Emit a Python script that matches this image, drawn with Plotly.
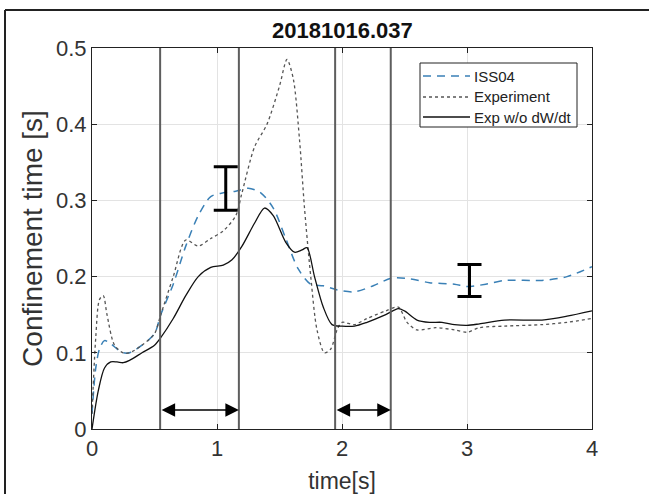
import plotly.graph_objects as go

# ---- data ----
t_iss = [0.0, 0.03, 0.06, 0.1, 0.15, 0.2, 0.25, 0.3, 0.4, 0.5, 0.55, 0.65, 0.75, 0.85, 0.95, 1.05,
         1.15, 1.25, 1.35, 1.45, 1.55, 1.65, 1.75, 1.85, 1.95, 2.1, 2.25, 2.4, 2.55, 2.7, 2.9,
         3.0, 3.15, 3.3, 3.6, 3.8, 4.0]
iss04 = [0.02, 0.08, 0.105, 0.116, 0.112, 0.105, 0.1, 0.1, 0.11, 0.125, 0.15, 0.19, 0.24, 0.28,
         0.305, 0.31, 0.312, 0.316, 0.31, 0.29, 0.25, 0.21, 0.19, 0.188, 0.183, 0.18, 0.188,
         0.198, 0.197, 0.192, 0.19, 0.187, 0.19, 0.195, 0.195, 0.2, 0.213]

t_exp = [0.0, 0.03, 0.06, 0.09, 0.12, 0.18, 0.25, 0.3, 0.4, 0.5, 0.55, 0.65, 0.75, 0.85, 0.95,
         1.05, 1.15, 1.2, 1.3, 1.4, 1.5, 1.56, 1.61, 1.66, 1.7, 1.75, 1.8, 1.86, 1.91, 1.96, 2.0,
         2.1, 2.2, 2.35, 2.45, 2.52, 2.6, 2.75, 2.9, 3.0, 3.1, 3.3, 3.6, 3.8, 4.0]
experiment = [0.02, 0.12, 0.17, 0.175, 0.15, 0.11, 0.1, 0.1, 0.11, 0.125, 0.15, 0.2, 0.248,
              0.24, 0.25, 0.26, 0.28, 0.31, 0.37, 0.4, 0.45, 0.485, 0.46, 0.38, 0.29, 0.2,
              0.13, 0.1, 0.105, 0.13, 0.14, 0.137, 0.145, 0.155, 0.16, 0.14, 0.13, 0.133,
              0.13, 0.127, 0.133, 0.135, 0.137, 0.14, 0.145]

t_wo = [0.0, 0.05, 0.1, 0.15, 0.2, 0.25, 0.3, 0.4, 0.5, 0.55, 0.65, 0.75, 0.85, 0.95, 1.05,
        1.12, 1.2, 1.3, 1.38, 1.45, 1.55, 1.62, 1.68, 1.72, 1.78, 1.85, 1.92, 2.0, 2.1, 2.2,
        2.35, 2.45, 2.5, 2.6, 2.7, 2.8, 2.9, 3.0, 3.1, 3.3, 3.6, 3.8, 4.0]
exp_wo_dwdt = [0.0, 0.05, 0.08, 0.088, 0.088, 0.087, 0.09, 0.1, 0.11, 0.12, 0.145, 0.175, 0.2,
               0.212, 0.215, 0.222, 0.24, 0.27, 0.29, 0.28, 0.245, 0.232, 0.235, 0.238, 0.2,
               0.16, 0.137, 0.135, 0.135, 0.14, 0.15, 0.158, 0.155, 0.143, 0.14, 0.14, 0.137,
               0.136, 0.138, 0.143, 0.143, 0.148, 0.155]

vlines_t = [0.545, 1.175, 1.945, 2.39]
arrow_spans = [(0.545, 1.175), (1.945, 2.39)]
arrow_y = 0.025
err_t = [1.07, 3.02]
err_center = [0.3155, 0.195]
err_half = [0.0285, 0.021]

x_ticks = [0, 1, 2, 3, 4]
y_ticks = [0, 0.1, 0.2, 0.3, 0.4, 0.5]
y_tick_text = ["0", "0.1", "0.2", "0.3", "0.4", "0.5"]

series_names = ["ISS04", "Experiment", "Exp w/o dW/dt"]

FONT = "Liberation Sans, Arial, sans-serif"

# plot-area geometry in pixels (for paper-coordinate decorations)
W, H = 649, 494
ML, MR, MT, MB = 92, 57, 48, 65
PW, PH = W - ML - MR, H - MT - MB


def px(xp):
    return (xp - ML) / PW


def py(yp):
    return (H - MB - yp) / PH


styles = [
    dict(color="#3a80b6", width=1.5, dash="8px,6px"),
    dict(color="#555555", width=1.3, dash="dot"),
    dict(color="#111111", width=1.3),
]

fig = go.Figure()

for xv in vlines_t:
    fig.add_shape(type="line", x0=xv, x1=xv, y0=0, y1=0.5, xref="x", yref="y",
                  line=dict(color="#5e5e5e", width=2), layer="above")

for (tx, ty), name, st in zip([(t_iss, iss04), (t_exp, experiment), (t_wo, exp_wo_dwdt)],
                              series_names, styles):
    fig.add_trace(go.Scatter(x=tx, y=ty, mode="lines", name=name, showlegend=False,
                             line=dict(shape="spline", smoothing=0.8, **st)))

fig.add_trace(go.Scatter(x=err_t, y=err_center, mode="markers", showlegend=False,
                         marker=dict(size=1, color="rgba(0,0,0,0)"),
                         error_y=dict(type="data", array=err_half, visible=True,
                                      color="black", thickness=3, width=12)))

for a, b in arrow_spans:
    fig.add_annotation(x=b, y=arrow_y, ax=a, ay=arrow_y, xref="x", yref="y",
                       axref="x", ayref="y", text="", showarrow=True,
                       arrowhead=2, startarrowhead=2, arrowside="end+start",
                       arrowsize=1.8, startarrowsize=1.8, arrowwidth=1.5, arrowcolor="black")

fig.add_annotation(x=0.5, y=py(30), xref="paper", yref="paper", yanchor="middle",
                   text="<b>20181016.037</b>",
                   showarrow=False, font=dict(family=FONT, size=22, color="#111"))

# legend box (MATLAB style)
fig.add_shape(type="rect", xref="paper", yref="paper", x0=px(420), x1=px(577),
              y0=py(127), y1=py(63), line=dict(color="#222", width=1), fillcolor="white",
              layer="above")
row_y = [76, 97, 117]
for name, st, ry in zip(series_names, styles, row_y):
    fig.add_shape(type="line", xref="paper", yref="paper", x0=px(423), x1=px(470),
                  y0=py(ry), y1=py(ry), line=st, layer="above")
    fig.add_annotation(x=px(472), y=py(ry), xref="paper", yref="paper", xanchor="left",
                       yanchor="middle", text=name, showarrow=False,
                       font=dict(family=FONT, size=15, color="#222"))

# outer figure frame
fig.add_shape(type="line", xref="paper", yref="paper", x0=px(5), x1=px(5),
              y0=py(H + 5), y1=py(10), line=dict(color="#222", width=2))
fig.add_shape(type="line", xref="paper", yref="paper", x0=px(5), x1=px(W + 5),
              y0=py(10), y1=py(10), line=dict(color="#222", width=2))

fig.update_layout(
    width=W, height=H,
    margin=dict(l=ML, r=MR, t=MT, b=MB),
    paper_bgcolor="white", plot_bgcolor="white",
    font=dict(family=FONT, color="#333"),
    showlegend=False,
)
fig.update_xaxes(range=[0, 4], tickvals=x_ticks, ticks="inside", ticklen=5, tickcolor="#222",
                 showline=True, linecolor="#222", linewidth=1, mirror="ticks",
                 showgrid=True, gridcolor="#e3e3e3", gridwidth=1, zeroline=False,
                 automargin=False,
                 tickfont=dict(size=22, color="#333"),
                 title=dict(text="time[s]", font=dict(size=23, color="#333"), standoff=12))
fig.update_yaxes(range=[0, 0.5], tickvals=y_ticks, ticktext=y_tick_text, ticks="inside",
                 ticklen=5, tickcolor="#222",
                 showline=True, linecolor="#222", linewidth=1, mirror="ticks",
                 showgrid=True, gridcolor="#e3e3e3", gridwidth=1, zeroline=False,
                 automargin=False,
                 tickfont=dict(size=22, color="#333"),
                 title=dict(text="Confinement time [s]", font=dict(size=28, color="#333"), standoff=5))

fig.write_html("out.html", config={"displayModeBar": False},
               post_script=("document.body.style.margin='0';"
                            "document.body.style.overflow='hidden';"
                            "document.documentElement.style.overflow='hidden';"))
